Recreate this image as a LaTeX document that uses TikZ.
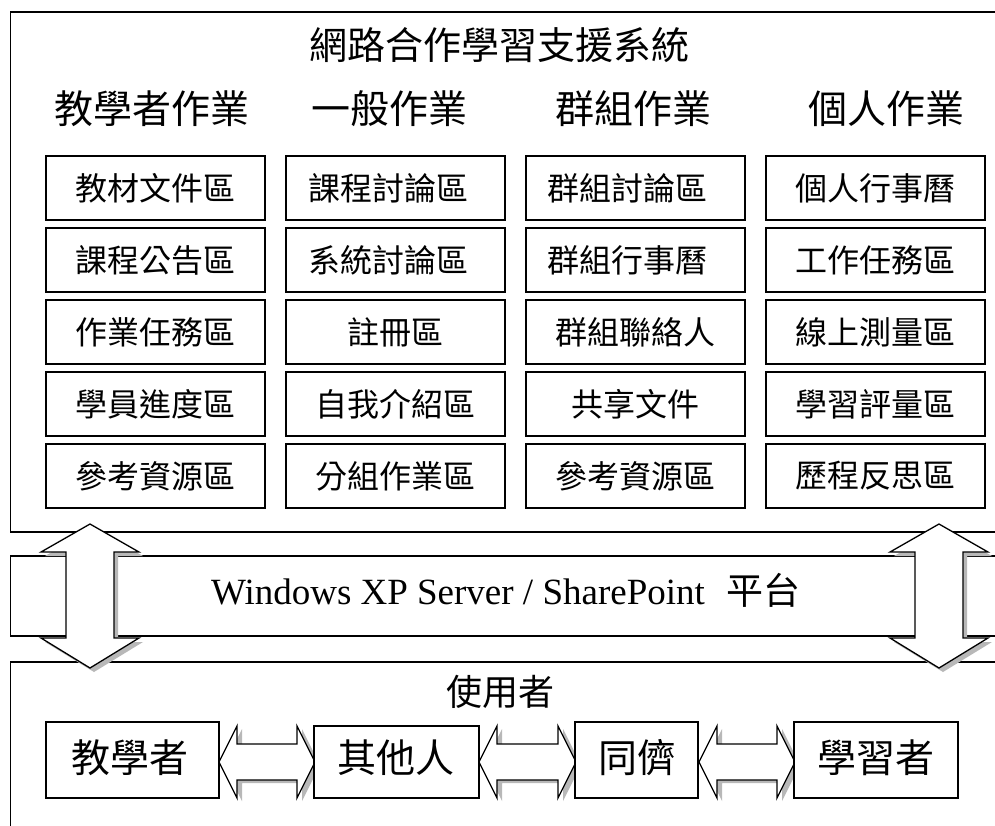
\documentclass[tikz,border=0pt]{standalone}
\usepackage{fontspec}
\setmainfont{Liberation Serif}
\newfontfamily\cjk{Noto Sans CJK TC}
\tikzset{x=1pt,y=-1pt,
 frame/.style={draw=black,line width=1.3pt,fill=white},
 cellbox/.style={draw=black,line width=1.3pt,fill=white,minimum width=219pt,minimum height=64pt,inner sep=0pt,font=\cjk\fontsize{32}{32}\selectfont},
 userbox/.style={draw=black,line width=1.3pt,fill=white,inner sep=0pt},
 usertext/.style={inner sep=0pt,font=\cjk\fontsize{39}{39}\selectfont},
 head/.style={inner sep=0pt,font=\cjk\fontsize{39}{39}\selectfont},
 dbl/.style={draw=black,line width=1.3pt,fill=white,line join=miter},
 shad/.style={fill=black!28,draw=none}}
\newcommand{\vdbl}[1]{%
 \fill[shad,xshift=4pt,yshift=-4pt] (#1,524) -- (#1+49,552) -- (#1+24,552) -- (#1+24,638) -- (#1+49,638) -- (#1,668) -- (#1-49,638) -- (#1-24,638) -- (#1-24,552) -- (#1-49,552) -- cycle;
 \draw[dbl] (#1,524) -- (#1+49,552) -- (#1+24,552) -- (#1+24,638) -- (#1+49,638) -- (#1,668) -- (#1-49,638) -- (#1-24,638) -- (#1-24,552) -- (#1-49,552) -- cycle;}
\newcommand{\hdbl}[2]{%
 \fill[shad,xshift=5pt,yshift=-3pt] (#1,762) -- (#1+18,726) -- (#1+18,744) -- (#2-18,744) -- (#2-18,726) -- (#2,762) -- (#2-18,798) -- (#2-18,780) -- (#1+18,780) -- (#1+18,798) -- cycle;
 \draw[dbl] (#1,762) -- (#1+18,726) -- (#1+18,744) -- (#2-18,744) -- (#2-18,726) -- (#2,762) -- (#2-18,798) -- (#2-18,780) -- (#1+18,780) -- (#1+18,798) -- cycle;}
\begin{document}
\begin{tikzpicture}
\useasboundingbox (0,0) rectangle (995,825);
\begin{scope}
\clip (0,0) rectangle (995,825);
\draw[frame] (10.5,12) rectangle (1010,532);
\draw[frame] (10.5,556) rectangle (1010,636);
\draw[frame] (10.5,662) rectangle (1010,840);
\vdbl{90}
\vdbl{939}
\end{scope}
\node[head,font=\cjk\fontsize{38}{38}\selectfont] (title) at (499,45) {網路合作學習支援系統};
\node[head] (h1) at (152,109) {教學者作業};
\node[head] (h2) at (389,109) {一般作業};
\node[head] (h3) at (633,109) {群組作業};
\node[head] (h4) at (886,109) {個人作業};
\foreach \n/\cx/\cy/\t in {
 a1/155.5/188/教材文件區, a2/155.5/260/課程公告區, a3/155.5/332/作業任務區, a4/155.5/404/學員進度區, a5/155.5/476/參考資源區,
 b1/395.5/188/課程討論區\hspace*{15pt}, b2/395.5/260/系統討論區\hspace*{15pt}, b3/395.5/332/註冊區, b4/395.5/404/自我介紹區, b5/395.5/476/分組作業區,
 c1/635.5/188/群組討論區\hspace*{16pt}, c2/635.5/260/群組行事曆\hspace*{16pt}, c3/635.5/332/群組聯絡人, c4/635.5/404/共享文件, c5/635.5/476/參考資源區,
 d1/875.5/188/個人行事曆, d2/875.5/260/工作任務區, d3/875.5/332/線上測量區, d4/875.5/404/學習評量區, d5/875.5/476/歷程反思區}
 {\node[cellbox] (\n) at (\cx,\cy) {\t};}
\node[inner sep=0pt,font=\fontsize{37}{37}\selectfont] (plat) at (506,590) {Windows XP Server / SharePoint\hspace{22pt}{\cjk\fontsize{37}{37}\selectfont 平台}};
\node[head,font=\cjk\fontsize{36}{36}\selectfont] (users) at (500,692) {使用者};
\hdbl{219}{315}
\hdbl{479}{576}
\hdbl{699}{795}
\node[userbox,minimum width=173pt,minimum height=76pt] (u1) at (132.5,760) {};
\node[userbox,minimum width=165pt,minimum height=72pt] (u2) at (396.5,762) {};
\node[userbox,minimum width=123pt,minimum height=76pt] (u3) at (636.5,760) {};
\node[userbox,minimum width=164pt,minimum height=76pt] (u4) at (876,760) {};
\node[usertext] (t1) at (130,758) {教學者};
\node[usertext] (t2) at (396,758) {其他人};
\node[usertext] (t3) at (637,758) {同儕};
\node[usertext] (t4) at (876,758) {學習者};
\end{tikzpicture}
\end{document}
